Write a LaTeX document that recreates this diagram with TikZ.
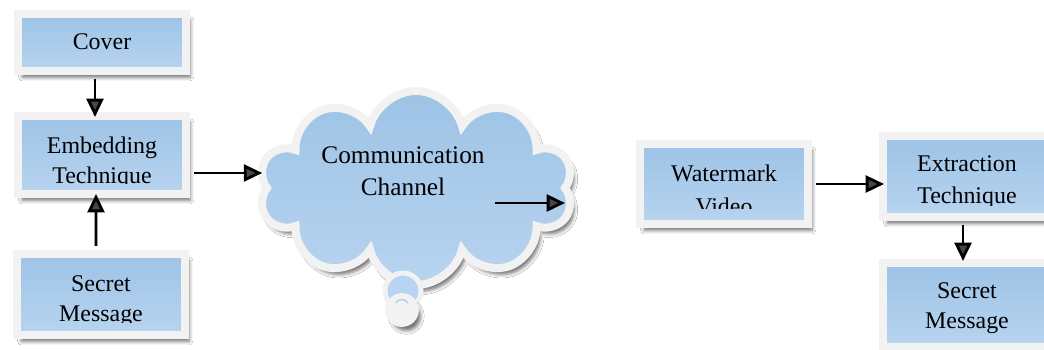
\documentclass[tikz,border=0pt]{standalone}
\usepackage{fontspec}
\setmainfont{Liberation Serif}
\usetikzlibrary{arrows.meta, shapes.symbols, shadows.blur}

\definecolor{framegray}{RGB}{242,242,242}
\definecolor{boxtop}{RGB}{157,195,230}
\definecolor{boxbottom}{RGB}{184,212,240}

\tikzset{
  softshadow/.style={blur shadow={shadow xshift=3pt, shadow yshift=-4.5pt, shadow blur radius=2.5pt, shadow opacity=55}},
  blockbox/.style={rectangle, draw=framegray, line width=0.2cm, top color=boxtop, bottom color=boxbottom,
    minimum width=4.2cm, inner sep=0pt, softshadow},
  boxtext/.style={font=\fontsize{17}{21.5}\selectfont, align=center, inner sep=0pt},
  widetext/.style={font=\fontsize{17}{23}\selectfont, align=center, inner sep=0pt},
  flow/.style={-{Triangle[length=13pt, width=12pt]}, line width=2pt, shorten <=0.1cm}
}

\begin{document}
\begin{tikzpicture}[x=0.025cm, y=-0.025cm]
    \clip (0,0) rectangle (1044,349);
    \fill[white] (0,0) rectangle (1044,349);

    % Embedding side
    \node[blockbox, minimum height=1.425cm] (cover) at (102,42.5) {};
    \node[blockbox, minimum height=1.95cm] (embed) at (102,155) {};
    \node[blockbox, minimum height=2.025cm] (secretin) at (101,294.5) {};
    \node[boxtext] (covertext) at (102,42) {Cover};
    \begin{scope}
        \clip (22,120) rectangle (182,183);
        \node[boxtext] (embedtext) at (102,163) {Embedding\\Technique};
    \end{scope}
    \begin{scope}
        \clip (20,258) rectangle (182,322);
        \node[boxtext] (secretintext) at (101,301) {Secret\\Message};
    \end{scope}

    % Channel cloud with its bubbles
    \node[cloud, cloud puffs=10, aspect=1.6, draw=framegray, line width=0.2cm, top color=boxtop,
        bottom color=boxbottom, softshadow, minimum width=7.85cm, minimum height=4.85cm] (channel) at (416,188) {};
    \draw[framegray, line width=0.125cm, fill=boxbottom] (403,291) circle[radius=0.45cm];
    \draw[framegray, line width=0.125cm, fill=framegray, softshadow] (402,310) circle[radius=0.36cm];
    \draw[boxbottom, line width=1.2pt] (396,303) arc[start angle=150, end angle=30, radius=0.17cm];
    \node[widetext, font=\fontsize{18}{23}\selectfont] (channeltext) at (403,171) {Communication\\Channel};
    \coordinate (chanin) at (495,203);
    \coordinate (chanout) at (565,203);

    % Extraction side
    \node[blockbox, minimum height=2cm] (video) at (724,184) {};
    \node[blockbox, minimum height=2.025cm] (extract) at (967,176.5) {};
    \node[blockbox, minimum height=2.1cm] (secretout) at (967,305) {};
    \begin{scope}
        \clip (645,148) rectangle (803,208);
        \node[widetext] (videotext) at (724,190) {Watermark\\Video};
    \end{scope}
    \begin{scope}
        \clip (887,140) rectangle (1047,205);
        \node[widetext] (extracttext) at (967,182) {Extraction\\Technique};
    \end{scope}
    \node[boxtext] (secretouttext) at (967,308) {Secret\\Message};

    % Arrows
    \draw[flow, shorten >=-0.125cm] ([xshift=-0.175cm]cover.south) -- ([xshift=-0.175cm]embed.north);
    \draw[flow, shorten >=-0.1cm] ([xshift=-0.125cm]secretin.north) -- ([xshift=-0.15cm]embed.south);
    \coordinate (embedout) at ([yshift=-0.45cm]embed.east);
    \draw[flow] (embedout) -- (embedout -| channel.west);
    \draw[flow, shorten <=0cm] (chanin) -- (chanout);
    \draw[flow, shorten >=-0.125cm] (video.east) -- (video.east -| extract.west);
    \draw[flow, shorten >=-0.05cm] ([xshift=-0.1cm]extract.south) -- ([xshift=-0.1cm]secretout.north);
\end{tikzpicture}
\end{document}
